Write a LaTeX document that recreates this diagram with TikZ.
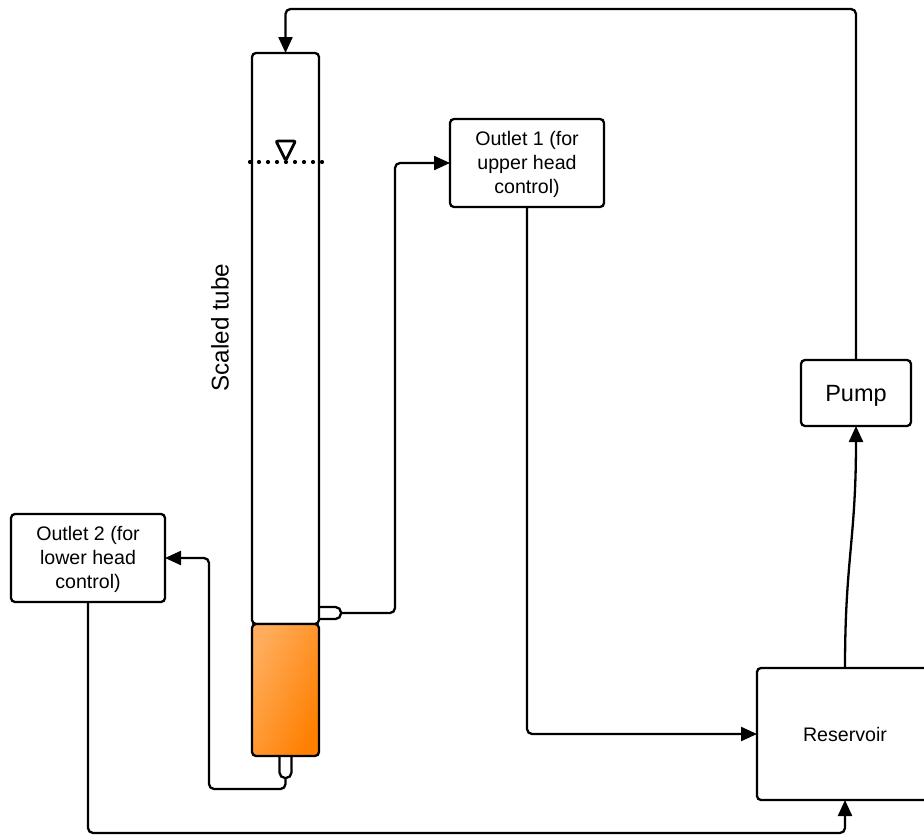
\documentclass[tikz,border=0pt]{standalone}
\usepackage{fontspec}
\setmainfont{Liberation Sans}
\usetikzlibrary{arrows.meta,positioning}
\definecolor{heaterlight}{HTML}{FFAD5C}
\definecolor{heaterdark}{HTML}{FF7F00}

\begin{document}
\begin{tikzpicture}[
  x=1pt, y=-1pt,
  line width=2.3pt,
  box/.style={draw, fill=white, rounded corners=4pt, align=center, inner sep=0pt, outer sep=0pt, font=\fontsize{19.6}{24}\selectfont},
  stub/.style={draw, fill=white, rounded corners=5.5pt, inner sep=0pt, outer sep=0pt},
  arr/.style={-{Triangle[length=16pt,width=14pt]}},
  pipe/.style={rounded corners=5pt}
]
\useasboundingbox (0,0) rectangle (924,835);
\clip (0,0) rectangle (924,835);
% stubs sit behind the tube
\node[stub, minimum width=32pt, minimum height=12pt] (stubr) at (325,613) {};
\node[stub, minimum width=12pt, minimum height=32pt] (stubb) at (285.5,762) {};
\node[box, minimum width=67pt, minimum height=571pt] (tube) at (285.5,338.5) {};
\node[box, minimum width=67pt, minimum height=132pt, left color=heaterlight, right color=heaterdark, shading angle=65, below=0pt of tube] (heater) {};
\node[box, minimum width=154pt, minimum height=88pt, text depth=2pt] (out1) at (527,163) {Outlet 1 (for\\upper head\\control)};
\node[box, minimum width=154pt, minimum height=88pt, text depth=2pt] (out2) at (88,558) {Outlet 2 (for\\lower head\\control)};
\node[box, minimum width=110pt, minimum height=66pt, text depth=0pt, font=\fontsize{23.5}{26}\selectfont] (pump) at (856,393) {Pump};
\node[box, minimum width=176pt, minimum height=132pt] (resv) at (845,734) {Reservoir};
\node[rotate=90, font=\fontsize{24.2}{28}\selectfont] (scale) at (220,327.5) {Scaled tube};
% water level mark
\coordinate (lvla) at (250,162);
\coordinate (lvlb) at (323,162);
\draw[line width=4.2pt, line cap=round, dash pattern=on 0pt off 9pt] (lvla) -- (lvlb);
\draw[line width=2.8pt, rounded corners=2pt] (276,141) -- (295.5,141) -- (285.7,160.5) -- cycle;
% pipes
\draw[arr, pipe] (pump.north) |- (285.5,9) -- (tube.north);
\draw[arr, pipe] (stubr.east) -| (395,163) -- (out1.west);
\draw[arr, pipe] (out1.south) |- (resv.west);
\draw[arr, pipe] (stubb.south) |- (209,789) |- (out2.east);
\draw[arr, pipe] (out2.south) |- (845,833) -- (resv.south);
\draw[arr] (resv.north) .. controls (845,560) and (856,540) .. (pump.south);
\end{tikzpicture}
\end{document}
